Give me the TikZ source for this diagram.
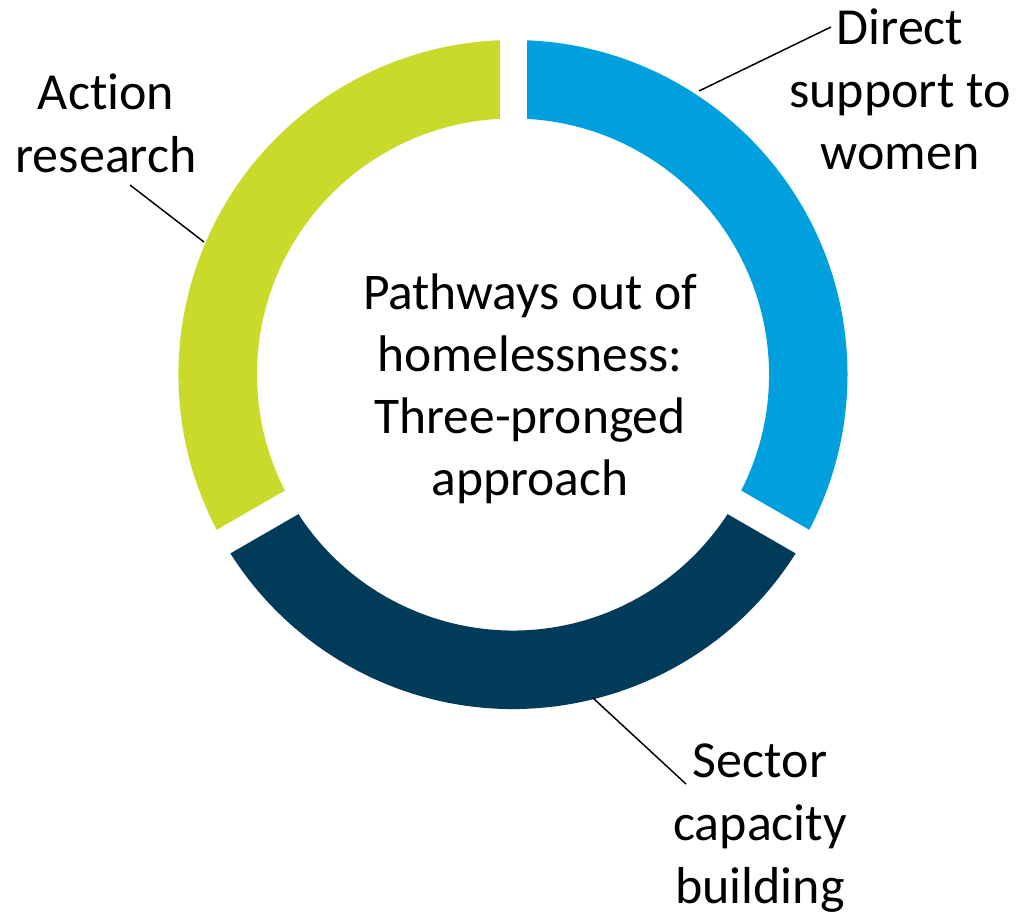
\documentclass[tikz,border=0pt]{standalone}
\usepackage{fontspec}
\setmainfont{Carlito}[Ligatures=NoCommon]
\definecolor{segblue}{RGB}{0,160,223}
\definecolor{seggreen}{RGB}{201,218,42}
\definecolor{segnavy}{RGB}{1,59,90}
\begin{document}
\begin{tikzpicture}[x=0.75pt,y=-0.75pt,
  lbl/.style={font=\fontsize{39}{47}\selectfont, align=center, inner sep=0, anchor=base},
  ttl/.style={font=\fontsize{38.6}{46.5}\selectfont, align=center, inner sep=0, anchor=base},
  leader/.style={line width=1.1pt, black},
  gapline/.style={white, line width=20.25pt}]
\useasboundingbox (0,0) rectangle (1020,913);
\coordinate (c) at (513,374.5);
% segments
\fill[segblue] ([shift={(-90:334.5)}]c) arc[start angle=-90,end angle=30,radius=334.5]
  -- ([shift={(30:256)}]c) arc[start angle=30,end angle=-90,radius=256] -- cycle;
\fill[segnavy] ([shift={(30:334.5)}]c) arc[start angle=30,end angle=150,radius=334.5]
  -- ([shift={(150:256)}]c) arc[start angle=150,end angle=30,radius=256] -- cycle;
\fill[seggreen] ([shift={(150:334.5)}]c) arc[start angle=150,end angle=270,radius=334.5]
  -- ([shift={(270:256)}]c) arc[start angle=270,end angle=150,radius=256] -- cycle;
% gaps
\coordinate (g1) at ([shift={(-90:360)}]c);
\coordinate (g2) at ([shift={(30:360)}]c);
\coordinate (g3) at ([shift={(150:360)}]c);
\draw[gapline] (c) -- (g1);
\draw[gapline] (c) -- (g2);
\draw[gapline] (c) -- (g3);
% centre text
\node[ttl] (title) at (530,495) {Pathways out of\\homelessness:\\Three-pronged\\approach};
% labels
\node[lbl] (direct) at (900,170) {Direct\\support to\\women};
\node[lbl] (action) at (106,172) {Action\\research};
\node[lbl] (sector) at (760,903) {Sector\\capacity\\building};
% leaders
\coordinate (d1) at (699,91);
\coordinate (d2) at (831,27);
\coordinate (a1) at (130,185);
\coordinate (a2) at (204,242);
\coordinate (s1) at (593,698);
\coordinate (s2) at (686,784);
\draw[leader] (d1) -- (d2);
\draw[leader] (a1) -- (a2);
\draw[leader] (s1) -- (s2);
\end{tikzpicture}
\end{document}
